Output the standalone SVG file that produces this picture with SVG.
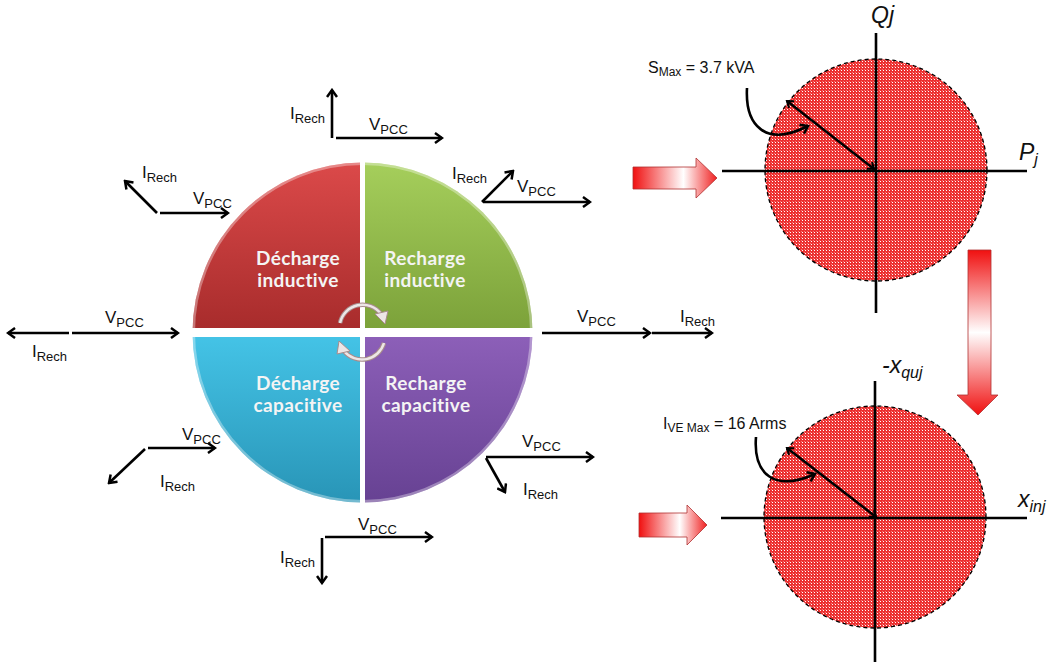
<svg xmlns="http://www.w3.org/2000/svg" width="1052" height="666" viewBox="0 0 1052 666">
<style>
.vec{stroke:#000;stroke-width:2.6;fill:none;marker-end:url(#chev)}
.lbl{font-family:"Liberation Sans",Arial,sans-serif;font-size:17px;fill:#111}
.sub{font-size:13px}
.qt{font-family:Lato,"Open Sans",sans-serif;font-weight:bold;font-size:19px;letter-spacing:0.4px;fill:#f4f4f4;text-anchor:middle}
.ax{stroke:#000;stroke-width:2.6}
.it{font-family:"Liberation Sans",Arial,sans-serif;font-style:italic;font-size:23px;fill:#111}
.its{font-size:16px}
.cap{font-family:"Liberation Sans",Arial,sans-serif;font-size:16px;fill:#111}
.caps{font-size:12px}
.disk{fill:url(#dots);stroke:#000;stroke-width:1.3;stroke-dasharray:4 3}
.rad{stroke:#000;stroke-width:2.6;fill:none;marker-start:url(#chevs);marker-end:url(#chevs)}
.curv{stroke:#000;stroke-width:2.6;fill:none;marker-end:url(#chev)}
.blk{stroke:#b03030;stroke-width:0.8}
.rot1{fill:none;stroke:#a88c8c;stroke-width:4.5}
.rot2{fill:none;stroke:#ece6e6;stroke-width:2.5}
.roth{fill:#ece6e6;stroke:#a88c8c;stroke-width:1}
</style>
<defs>
<marker id="chev" viewBox="0 0 12 12" refX="10" refY="6" markerWidth="12" markerHeight="12" markerUnits="userSpaceOnUse" orient="auto">
<path d="M3,1 L10,6 L3,11" fill="none" stroke="#000" stroke-width="2.5"/>
</marker>
<marker id="chevs" viewBox="0 0 12 12" refX="10" refY="6" markerWidth="10" markerHeight="10" markerUnits="userSpaceOnUse" orient="auto-start-reverse">
<path d="M3,1 L10,6 L3,11" fill="none" stroke="#000" stroke-width="2.5"/>
</marker>
<pattern id="dots" width="3" height="3" patternUnits="userSpaceOnUse">
<rect width="3" height="3" fill="#ec3030"/>
<rect x="1" y="1" width="1" height="1" fill="#ffffff"/>
<rect x="0" y="0" width="1" height="1" fill="#ffffff" opacity="0.35"/>
</pattern>
<clipPath id="cc"><circle cx="362.5" cy="332.5" r="170"/></clipPath>
<linearGradient id="gr" x1="0" y1="0" x2="0" y2="1"><stop offset="0" stop-color="#dc4a4a"/><stop offset="1" stop-color="#a82c2c"/></linearGradient>
<linearGradient id="gg" x1="0" y1="0" x2="0" y2="1"><stop offset="0" stop-color="#a6cf5c"/><stop offset="1" stop-color="#7ca23a"/></linearGradient>
<linearGradient id="gb" x1="0" y1="0" x2="0" y2="1"><stop offset="0" stop-color="#44c3e6"/><stop offset="1" stop-color="#2894b6"/></linearGradient>
<linearGradient id="gp" x1="0" y1="0" x2="0" y2="1"><stop offset="0" stop-color="#8c5fb8"/><stop offset="1" stop-color="#664192"/></linearGradient>
<linearGradient id="bh" x1="0" y1="0" x2="1" y2="0"><stop offset="0" stop-color="#f01010"/><stop offset="0.6" stop-color="#ffffff"/><stop offset="1" stop-color="#f02020"/></linearGradient>
<linearGradient id="bv" x1="0" y1="0" x2="0" y2="1"><stop offset="0" stop-color="#f01010"/><stop offset="0.5" stop-color="#ffffff"/><stop offset="1" stop-color="#f01010"/></linearGradient>
</defs>
<rect width="1052" height="666" fill="#fff"/>

<g id="wheel" clip-path="url(#cc)">
<g id="q-decharge-inductive">
<rect x="190" y="160" width="170" height="168" fill="url(#gr)"/>
<text class="qt" x="298" y="265">Décharge</text>
<text class="qt" x="298" y="287">inductive</text>
</g>
<g id="q-recharge-inductive">
<rect x="365" y="160" width="172" height="168" fill="url(#gg)"/>
<text class="qt" x="425" y="265">Recharge</text>
<text class="qt" x="425" y="287">inductive</text>
</g>
<g id="q-decharge-capacitive">
<rect x="190" y="337" width="170" height="168" fill="url(#gb)"/>
<text class="qt" x="298" y="390">Décharge</text>
<text class="qt" x="298" y="412">capacitive</text>
</g>
<g id="q-recharge-capacitive">
<rect x="365" y="337" width="172" height="168" fill="url(#gp)"/>
<text class="qt" x="426" y="390">Recharge</text>
<text class="qt" x="426" y="412">capacitive</text>
</g>
<circle cx="362.5" cy="332.5" r="169" fill="none" stroke="#ffffff" stroke-opacity="0.35" stroke-width="3"/>
</g>
<g id="rotation">
<path class="rot1" d="M340,323 A23,23 0 0 1 381,314"/>
<path class="rot2" d="M340,323 A23,23 0 0 1 381,314"/>
<polygon class="roth" points="375,314 388,311 385,324"/>
<path class="rot1" d="M384,343 A23,23 0 0 1 344,351"/>
<path class="rot2" d="M384,343 A23,23 0 0 1 344,351"/>
<polygon class="roth" points="350,351 337,354 339,341"/>
</g>

<g id="connectors">
<line class="vec" x1="332" y1="138" x2="332" y2="90"/>
<line class="vec" x1="336" y1="138" x2="442" y2="138"/>
<line class="vec" x1="482" y1="202" x2="513" y2="171"/>
<line class="vec" x1="483" y1="202" x2="590" y2="202"/>
<line class="vec" x1="157" y1="213" x2="125" y2="181"/>
<line class="vec" x1="160" y1="213" x2="228" y2="213"/>
<line class="vec" x1="72" y1="333" x2="178" y2="333"/>
<line class="vec" x1="69" y1="333" x2="8" y2="333"/>
<line class="vec" x1="542" y1="333" x2="650" y2="333"/>
<line class="vec" x1="652" y1="333" x2="712" y2="333"/>
<line class="vec" x1="148" y1="448" x2="215" y2="448"/>
<line class="vec" x1="145" y1="449" x2="109" y2="483"/>
<line class="vec" x1="486" y1="457" x2="593" y2="457"/>
<line class="vec" x1="486" y1="458" x2="505" y2="492"/>
<line class="vec" x1="325" y1="537" x2="432" y2="537"/>
<line class="vec" x1="322" y1="538" x2="322" y2="583"/>
</g>

<g id="labels">
<text class="lbl" x="290" y="119">I<tspan class="sub" dy="4">Rech</tspan></text>
<text class="lbl" x="369" y="130">V<tspan class="sub" dy="4">PCC</tspan></text>
<text class="lbl" x="452" y="179">I<tspan class="sub" dy="4">Rech</tspan></text>
<text class="lbl" x="517" y="192">V<tspan class="sub" dy="4">PCC</tspan></text>
<text class="lbl" x="142" y="178">I<tspan class="sub" dy="4">Rech</tspan></text>
<text class="lbl" x="193" y="204">V<tspan class="sub" dy="4">PCC</tspan></text>
<text class="lbl" x="105" y="323">V<tspan class="sub" dy="4">PCC</tspan></text>
<text class="lbl" x="32" y="357">I<tspan class="sub" dy="4">Rech</tspan></text>
<text class="lbl" x="577" y="322">V<tspan class="sub" dy="4">PCC</tspan></text>
<text class="lbl" x="680" y="322">I<tspan class="sub" dy="4">Rech</tspan></text>
<text class="lbl" x="182" y="440">V<tspan class="sub" dy="4">PCC</tspan></text>
<text class="lbl" x="160" y="487">I<tspan class="sub" dy="4">Rech</tspan></text>
<text class="lbl" x="522" y="447">V<tspan class="sub" dy="4">PCC</tspan></text>
<text class="lbl" x="523" y="495">I<tspan class="sub" dy="4">Rech</tspan></text>
<text class="lbl" x="358" y="530">V<tspan class="sub" dy="4">PCC</tspan></text>
<text class="lbl" x="280" y="563">I<tspan class="sub" dy="4">Rech</tspan></text>
</g>

<g id="block-arrows">
<polygon class="blk" fill="url(#bh)" points="633,167 696,167 696,158 717,178 696,198 696,189 633,189"/>
<polygon class="blk" fill="url(#bh)" points="639,513 687,513 687,505 707,525 687,545 687,537 639,537"/>
<polygon class="blk" fill="url(#bv)" points="968,250 991,250 991,395 998,395 978,415 957,395 968,395"/>
</g>

<g id="pq-diagram">
<circle class="disk" cx="876" cy="170" r="111"/>
<line class="ax" x1="876" y1="33" x2="876" y2="313"/>
<line class="ax" x1="722" y1="171" x2="1027" y2="171"/>
<line class="rad" x1="874" y1="169" x2="787" y2="101"/>
<path class="curv" d="M747,88 C745,125 765,148 808,126"/>
<text class="it" x="871" y="23">Qj</text>
<text class="it" x="1019" y="160">P<tspan class="its" dy="5">j</tspan></text>
<text class="cap" x="648" y="73">S<tspan class="caps" dy="3">Max</tspan><tspan dy="-3"> = 3.7 kVA</tspan></text>
</g>

<g id="x-diagram">
<circle class="disk" cx="875" cy="517" r="111"/>
<line class="ax" x1="875" y1="381" x2="875" y2="662"/>
<line class="ax" x1="721" y1="518" x2="1027" y2="518"/>
<line class="rad" x1="876" y1="517" x2="787" y2="448"/>
<path class="curv" d="M756,437 C753,475 775,492 815,474"/>
<text class="it" x="882" y="373">-x<tspan class="its" dy="5">quj</tspan></text>
<text class="it" x="1018" y="507">x<tspan class="its" dy="5">inj</tspan></text>
<text class="cap" x="663" y="429">I<tspan class="caps" dy="3">VE Max</tspan><tspan dy="-3"> = 16 Arms</tspan></text>
</g>
</svg>
